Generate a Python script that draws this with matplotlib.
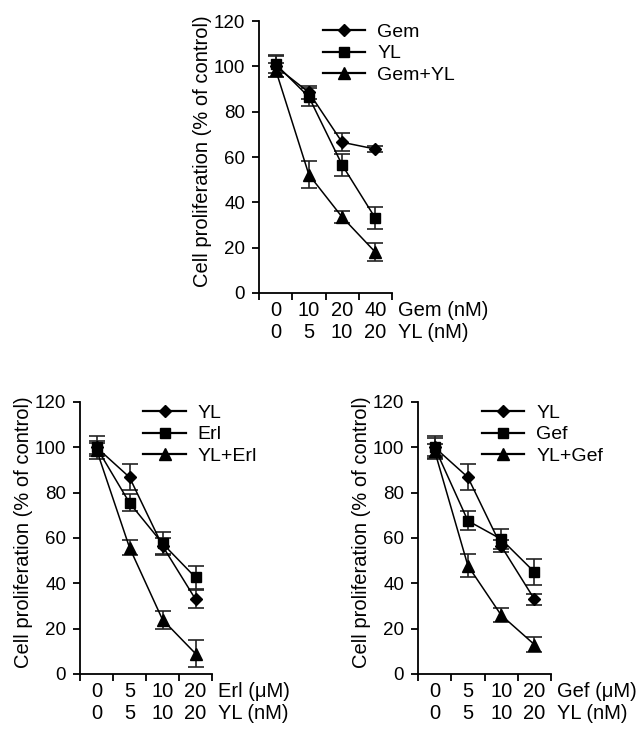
import matplotlib
matplotlib.use("Agg")
import matplotlib.pyplot as plt
from matplotlib.lines import Line2D

plt.rcParams['font.family'] = ['Liberation Sans', 'DejaVu Sans']

# top panel: Gem / YL
top_ticks = ["0\n0", "10\n5", "20\n10", "40\n20"]
top_unit = "Gem (nM)\nYL (nM)"
top_labels = ["Gem", "YL", "Gem+YL"]
top_means = [
    [100, 88.5, 66.5, 63.5],
    [101, 86.5, 56.5, 33.0],
    [98.5, 52.2, 33.5, 18.0],
]
top_errs = [
    [4.5, 3.0, 4.0, 1.3],
    [4.0, 3.8, 5.0, 4.8],
    [3.0, 6.0, 2.7, 4.0],
]

# bottom left: YL / Erl
erl_ticks = ["0\n0", "5\n5", "10\n10", "20\n20"]
erl_unit = "Erl (\u03bcM)\nYL (nM)"
erl_labels = ["YL", "Erl", "YL+Erl"]
erl_means = [
    [100, 86.8, 56.5, 33.0],
    [100, 75.5, 57.6, 42.6],
    [99, 55.8, 24.0, 9.0],
]
erl_errs = [
    [5.0, 5.7, 3.5, 4.0],
    [3.0, 3.8, 5.0, 5.0],
    [3.0, 3.5, 4.0, 6.0],
]

# bottom right: YL / Gef
gef_ticks = ["0\n0", "5\n5", "10\n10", "20\n20"]
gef_unit = "Gef (\u03bcM)\nYL (nM)"
gef_labels = ["YL", "Gef", "YL+Gef"]
gef_means = [
    [100, 86.8, 56.5, 33.0],
    [100, 67.6, 59.5, 45.0],
    [98.5, 47.8, 26.0, 13.0],
]
gef_errs = [
    [5.0, 5.7, 2.5, 2.5],
    [4.0, 4.2, 4.3, 5.9],
    [3.0, 5.0, 3.0, 3.5],
]

markers = ['D', 's', '^']
msizes = [6.5, 7.5, 8.5]
FS = 14


def panel(ax, ticks, unit, labels, means, errs):
    xs = [0.5, 1.5, 2.5, 3.5]
    handles = []
    for m, e, mk, ms, lab in zip(means, errs, markers, msizes, labels):
        ax.errorbar(xs, m, yerr=e, marker=mk, ms=ms, color='black',
                    ecolor='#222222', elinewidth=1.2, capsize=6,
                    capthick=1.2, lw=1.1)
        handles.append(Line2D([], [], color='black', lw=1.6, marker=mk,
                              ms=ms, label=lab))
    ax.set_xlim(0, 4)
    ax.set_ylim(0, 120)
    ax.spines['top'].set_visible(False)
    ax.spines['right'].set_visible(False)
    ax.spines['left'].set_linewidth(1.3)
    ax.spines['bottom'].set_linewidth(1.3)
    ax.set_yticks(range(0, 121, 20))
    ax.tick_params(axis='y', length=5, width=1.3, pad=5, labelsize=13.5)
    ax.set_xticks([0, 1, 2, 3, 4])
    ax.set_xticklabels([])
    ax.tick_params(axis='x', which='major', length=5, width=1.3)
    ax.set_xticks(xs, minor=True)
    ax.set_xticklabels(ticks, minor=True, fontsize=14.5, linespacing=1.15)
    ax.tick_params(axis='x', which='minor', length=0, pad=6)
    ax.text(1.045, -0.0, unit, transform=ax.transAxes, fontsize=14.5,
            ha='left', va='top', linespacing=1.15)
    ax.set_ylabel("Cell proliferation (% of control)", fontsize=FS + 0.5)
    ax.yaxis.set_label_coords(-0.355, 0.52)
    ax.legend(handles=handles, loc='upper left', bbox_to_anchor=(0.42, 1.02),
              frameon=False, fontsize=FS, handlelength=2.2,
              handletextpad=0.6, labelspacing=0.2, borderaxespad=0)


fig = plt.figure(figsize=(6.43, 7.34), dpi=100)
ax1 = fig.add_axes([259 / 643, 1 - 293 / 734, 133 / 643, 272 / 734])
ax2 = fig.add_axes([80 / 643, 1 - 674 / 734, 132 / 643, 272 / 734])
ax3 = fig.add_axes([418 / 643, 1 - 674 / 734, 133 / 643, 272 / 734])

panel(ax1, top_ticks, top_unit, top_labels, top_means, top_errs)
panel(ax2, erl_ticks, erl_unit, erl_labels, erl_means, erl_errs)
panel(ax3, gef_ticks, gef_unit, gef_labels, gef_means, gef_errs)

# align unit text with the tick labels
fig.canvas.draw()
for ax in (ax1, ax2, ax3):
    lab = ax.get_xticklabels(minor=True)[0]
    bb = lab.get_window_extent()
    inv = ax.transAxes.inverted()
    ytop = inv.transform((0, bb.y1))[1]
    ax.texts[-1].set_y(ytop)

fig.savefig("out.png", dpi=100)
